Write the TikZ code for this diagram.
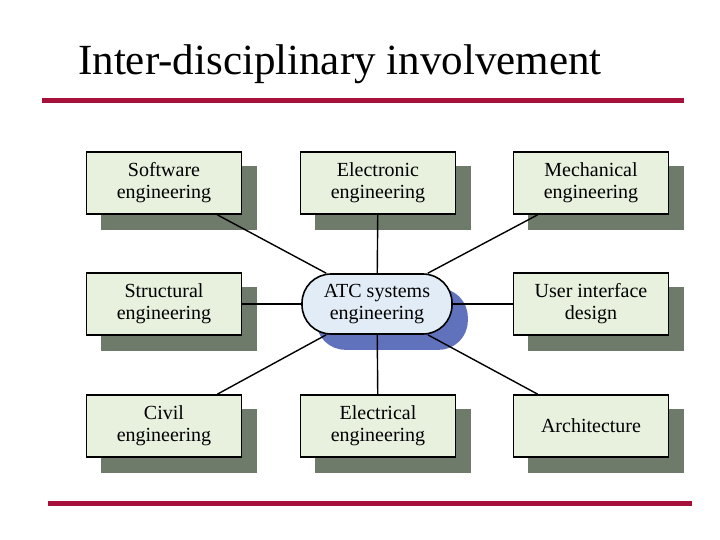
\documentclass[tikz,border=0pt]{standalone}
\usepackage{fontspec}
\setmainfont{Liberation Serif}
\usetikzlibrary{backgrounds}
\definecolor{boxfill}{HTML}{E8F0DE}
\definecolor{shad}{HTML}{6E7A6A}
\definecolor{bshad}{HTML}{6072BC}
\definecolor{cfill}{HTML}{E2ECF6}
\definecolor{rule}{HTML}{A8103C}
\pgfdeclarelayer{shadowlayer}
\pgfdeclarelayer{linklayer}
\pgfsetlayers{shadowlayer,linklayer,main}
\begin{document}
\begin{tikzpicture}[x=1pt,y=-1pt,
  txt/.style={line width=1.6pt,draw=black,align=center,font=\fontsize{20}{22}\selectfont,inner sep=0pt},
  bx/.style={txt,minimum width=155pt,minimum height=62pt,fill=boxfill},
  link/.style={line width=1.4pt}]
\useasboundingbox (0,0) rectangle (720,540);
\node[anchor=base west,inner xsep=0pt,font=\fontsize{43}{47}\selectfont] (title) at (78,75) {Inter-disciplinary involvement};
\draw[rule,line width=5pt] (42,101) -- (684,101);
\draw[rule,line width=5pt] (48,503) -- (692,503);
\node[txt,fill=cfill,rounded corners=29pt,minimum width=150pt,minimum height=60pt] (c) at (377,304) {ATC systems\\engineering};
\node[bx] (a1) at (164,183) {Software\\engineering};
\node[bx] (a2) at (378,183) {Electronic\\engineering};
\node[bx] (a3) at (591,183) {Mechanical\\engineering};
\node[bx] (b1) at (164,304) {Structural\\engineering};
\node[bx] (b3) at (591,304) {User interface\\design};
\node[bx] (d1) at (164,426) {Civil\\engineering};
\node[bx] (d2) at (378,426) {Electrical\\engineering};
\node[bx] (d3) at (591,426) {Architecture};
\begin{pgfonlayer}{shadowlayer}
\foreach \n in {a1,a2,a3,b1,b3,d1,d2,d3}{
  \fill[shad] ([xshift=15pt,yshift=-15pt]\n.north west) rectangle ([xshift=15pt,yshift=-15pt]\n.south east);}
\fill[bshad,rounded corners=29pt] ([xshift=15pt,yshift=-15pt]c.north west) rectangle ([xshift=15pt,yshift=-15pt]c.south east);
\end{pgfonlayer}
\begin{pgfonlayer}{linklayer}
\draw[link] ([xshift=-25pt]a1.south east) -- ([xshift=25pt]c.north west);
\draw[link] (a2) -- (c);
\draw[link] ([xshift=25pt]a3.south west) -- ([xshift=-25pt]c.north east);
\draw[link] (b1) -- (c);
\draw[link] (b3) -- (c);
\draw[link] ([xshift=-25pt]d1.north east) -- ([xshift=25pt]c.south west);
\draw[link] (d2) -- (c);
\draw[link] ([xshift=25pt]d3.north west) -- ([xshift=-25pt]c.south east);
\end{pgfonlayer}
\end{tikzpicture}
\end{document}
